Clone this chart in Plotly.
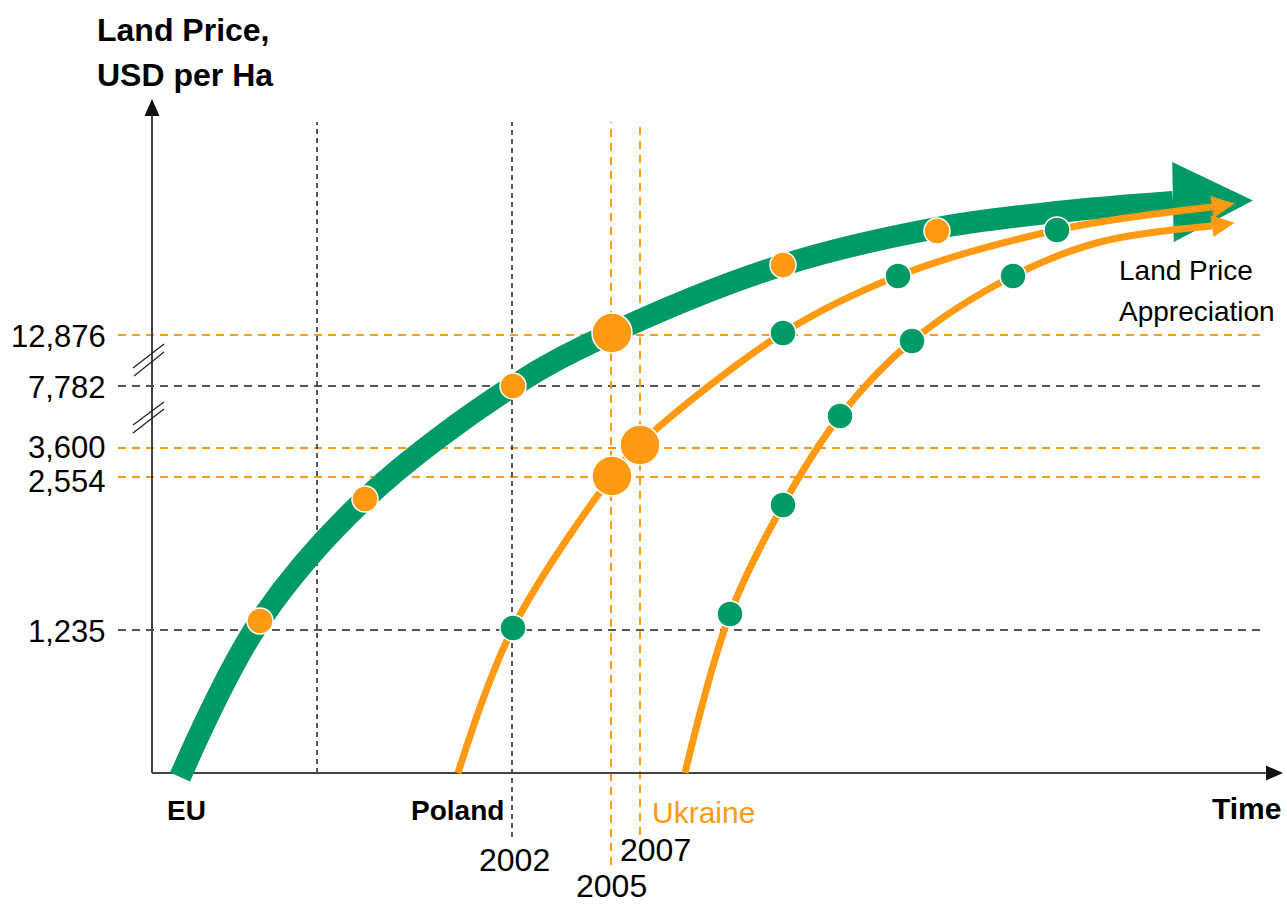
import plotly.graph_objects as go
import math

# ---- schematic data (x: time units from axis origin, y: price-level height above baseline) ----
eu_x = [28, 108, 213, 361, 460, 631, 785, 905, 1021]
eu_y = [-4, 152, 274, 387, 440, 508, 545, 561, 571]

poland_x = [306, 361, 460, 488, 631, 746, 905, 1060]
poland_y = [0, 145, 297, 329, 440, 497, 543, 566]

ukraine_x = [533, 578, 631, 688, 760, 861, 948, 1060]
ukraine_y = [0, 159, 268, 357, 432, 497, 531, 547]

eu_dot_x = [108, 213, 361, 631, 785]
eu_dot_y = [152, 274, 387, 508, 542]

big_dot_x = [460, 460, 488]
big_dot_y = [440, 297, 328]

green_dot_x = [361, 631, 746, 905, 578, 631, 688, 760, 861]
green_dot_y = [145, 440, 497, 543, 159, 268, 357, 432, 497]

price_labels = ["12,876", "7,782", "3,600", "2,554", "1,235"]
price_levels = [438, 387, 325, 296, 143]
price_colors = ["orange", "black", "orange", "orange", "black"]
price_label_nudge = [0, 0, 2, -3, 0]

year_labels = ["2002", "2005", "2007"]
year_x = [360, 459, 488]
year_colors = ["black", "orange", "orange"]
year_bottom = [-64, -92, -62]
year_label_pos = [(362, -87), (459, -113), (503, -77)]
extra_vline_x = [165]

GREEN = "#009A66"
ORANGE = "#FF9A12"
DARK = "#222222"
FONT = "Liberation Sans, Arial, sans-serif"
col = {"orange": ORANGE, "black": DARK}

fig = go.Figure()

def line(xs, ys, color, width, dash=None):
    fig.add_trace(go.Scatter(x=xs, y=ys, mode="lines", hoverinfo="skip",
                             line=dict(color=color, width=width, dash=dash)))

def arrowhead(xs, ys, length, half, color, direction=None):
    x1, y1 = xs[-1], ys[-1]
    if direction is None:
        dx, dy = xs[-1] - xs[-2], ys[-1] - ys[-2]
    else:
        dx, dy = direction
    n = math.hypot(dx, dy)
    ux, uy = dx / n, dy / n
    px, py = -uy, ux
    tri_x = [x1 + px * half, x1 + ux * length, x1 - px * half, x1 + px * half]
    tri_y = [y1 + py * half, y1 + uy * length, y1 - py * half, y1 + py * half]
    fig.add_trace(go.Scatter(x=tri_x, y=tri_y, mode="lines", fill="toself",
                             fillcolor=color, line=dict(width=0, color=color),
                             hoverinfo="skip"))

# dashed reference lines
for lvl, c in zip(price_levels, price_colors):
    line([-34, 1113], [lvl, lvl], col[c], 2 if c == "orange" else 1.5, "8px,6px")
for xv in extra_vline_x:
    line([xv, xv], [0, 651], DARK, 1.5, "5px,4px")
for xv, c, yb in zip(year_x, year_colors, year_bottom):
    line([xv, xv], [yb, 651], col[c], 2 if c == "orange" else 1.5, "8px,6px" if c == "orange" else "5px,4px")

# axes
line([0, 0], [0, 660], "#444444", 2)
line([0, 1118], [0, 0], "#444444", 2)
arrowhead([0, 0], [600, 657], 17, 7.5, "#111111")
arrowhead([1000, 1114], [0, 0], 17, 7.5, "#111111")

# axis break marks
for (xa, ya, xb, yb) in [(-19, 405, 12, 429), (-18, 397, 12, 421), (-19, 348, 12, 371), (-19, 340, 12, 364)]:
    line([xa, xb], [ya, yb], "#222222", 1.3)

# curves
fig.add_trace(go.Scatter(x=eu_x, y=eu_y, mode="lines", line=dict(color=GREEN, width=22, shape="spline"), hoverinfo="skip"))
arrowhead(eu_x, eu_y, 80, 40, GREEN, direction=(1, 0.02))
for xs, ys in [(poland_x, poland_y), (ukraine_x, ukraine_y)]:
    fig.add_trace(go.Scatter(x=xs, y=ys, mode="lines", line=dict(color=ORANGE, width=7, shape="spline"), hoverinfo="skip"))
    arrowhead(xs, ys, 23, 11, ORANGE)

# dots
fig.add_trace(go.Scatter(x=eu_dot_x, y=eu_dot_y, mode="markers", hoverinfo="skip",
                         marker=dict(size=26, color=ORANGE, line=dict(color="white", width=1.5))))
fig.add_trace(go.Scatter(x=green_dot_x, y=green_dot_y, mode="markers", hoverinfo="skip",
                         marker=dict(size=26, color=GREEN, line=dict(color="white", width=1.5))))
fig.add_trace(go.Scatter(x=big_dot_x, y=big_dot_y, mode="markers", hoverinfo="skip",
                         marker=dict(size=40, color=ORANGE, line=dict(color="white", width=1.5))))

ann = []
def text(t, x, y, size, xanchor="left", color="#000000"):
    ann.append(dict(text=t, x=x, y=y, xref="x", yref="y", showarrow=False,
                    xanchor=xanchor, yanchor="middle", borderpad=0,
                    font=dict(family=FONT, size=size, color=color)))

for lbl, lvl, nd in zip(price_labels, price_levels, price_label_nudge):
    text(lbl, -45, lvl - 1 + nd, 31, "right")
for lbl, (lx, ly) in zip(year_labels, year_label_pos):
    text(lbl, lx, ly, 32, "center")
text("<b>Land Price,</b>", -56, 743, 32)
text("<b>USD per Ha</b>", -56, 698, 32)
text("<b>EU</b>", 34, -37, 28, "center")
text("<b>Poland</b>", 353, -37, 28, "right")
text("Ukraine", 499, -39, 30, "left", ORANGE)
text("<b>Time</b>", 1130, -35, 30, "right")
text("Land Price", 966, 503, 28)
text("Appreciation", 966, 462, 28)

fig.update_layout(
    width=1287, height=907, margin=dict(l=0, r=0, t=0, b=0),
    paper_bgcolor="white", plot_bgcolor="white", showlegend=False,
    xaxis=dict(range=[-152, 1135], visible=False, fixedrange=True),
    yaxis=dict(range=[-134, 773], visible=False, fixedrange=True),
    annotations=ann,
)
fig.write_html("out.html")
